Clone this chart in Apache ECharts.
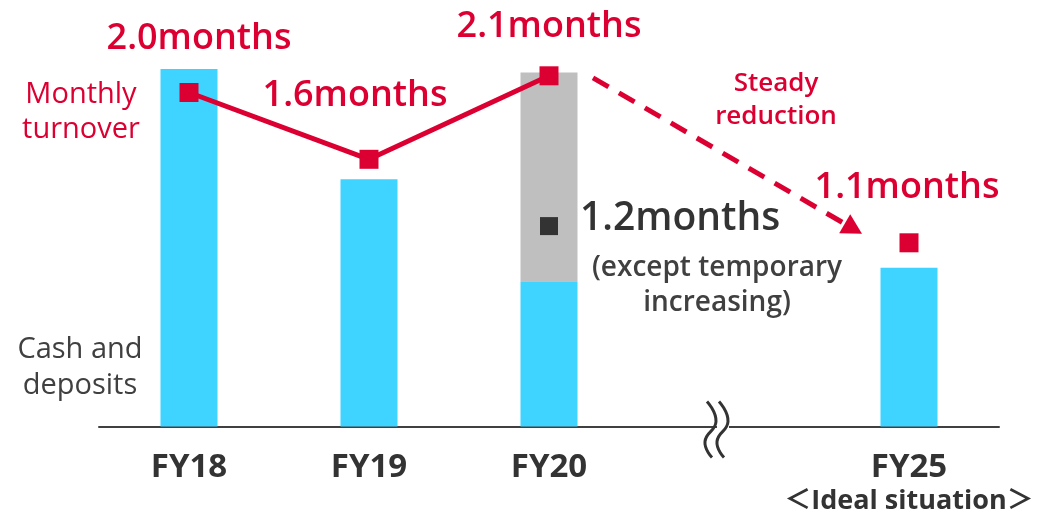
<!DOCTYPE html>
<html>
<head>
<meta charset="utf-8">
<script src="https://cdn.jsdelivr.net/npm/echarts@6/dist/echarts.min.js"></script>
<style>
  html, body { margin: 0; padding: 0; background: #fff; }
  #chart { width: 1045px; height: 515px; }
</style>
</head>
<body>
<div id="chart"></div>
<script>
// Fiscal years on the x axis; the blank slot stands for the omitted years.
const categories = ['FY18', 'FY19', 'FY20', '', 'FY25'];
// Cash and deposits, expressed in months of turnover
const cashDeposits = [2.14, 1.48, 0.87, null, 0.95];
// Temporary increase on top of FY20 cash
const temporaryIncrease = [null, null, 1.25, null, null];
// Months of turnover held (actual FY18-FY20, target FY25)
const turnoverMonths = [2.0, 1.6, 2.1, null, 1.1];
// FY20 level excluding the temporary increase
const adjustedMonths = [null, null, 1.2, null, null];

const RED = '#dc0032';
const BLUE = '#3fd4ff';
const GREY = '#bfbfbf';
const DARK = '#333333';
const FONT = "'Open Sans', 'Noto Sans CJK JP', sans-serif";

// per-point nudges for the red value labels
const labelOffsets = [[10, -4], [-14, -14], [0, 0], null, [-2, -6]];

const chart = echarts.init(document.getElementById('chart'));

chart.setOption({
  animation: false,
  backgroundColor: '#ffffff',
  textStyle: { fontFamily: FONT },
  grid: { left: 99, right: 46, top: 9, bottom: 87 },
  xAxis: {
    type: 'category',
    data: categories,
    axisLine: { lineStyle: { color: '#404040', width: 2 } },
    axisTick: { show: false },
    axisLabel: {
      margin: 23,
      interval: 0,
      formatter: function (v) {
        if (v === 'FY25') return '{fy|FY25}\n{sub|＜Ideal situation＞}';
        return v ? '{fy|' + v + '}' : '';
      },
      rich: {
        fy: { fontSize: 33, fontWeight: 'bold', color: DARK, lineHeight: 36, fontFamily: FONT },
        sub: { fontSize: 27, fontWeight: 'bold', color: DARK, lineHeight: 32, fontFamily: FONT }
      }
    }
  },
  yAxis: {
    type: 'value',
    min: 0,
    max: 2.5,
    show: false,
    splitLine: { show: false }
  },
  series: [
    {
      name: 'Cash and deposits',
      type: 'bar',
      stack: 'cash',
      barWidth: 57,
      itemStyle: { color: BLUE },
      data: cashDeposits
    },
    {
      name: 'Temporary increase',
      type: 'bar',
      stack: 'cash',
      barWidth: 57,
      itemStyle: { color: GREY },
      data: temporaryIncrease
    },
    {
      name: 'Monthly turnover',
      type: 'line',
      symbol: 'rect',
      symbolSize: 19,
      connectNulls: false,
      lineStyle: { color: RED, width: 5 },
      itemStyle: { color: RED },
      z: 5,
      label: {
        show: true,
        position: 'top',
        distance: 22,
        color: RED,
        fontSize: 36,
        fontWeight: 600,
        fontFamily: FONT,
        formatter: function (p) { return p.value.toFixed(1) + 'months'; }
      },
      data: turnoverMonths.map(function (v, i) {
        if (v == null) return null;
        return { value: v, label: { offset: labelOffsets[i] } };
      })
    },
    {
      name: 'Excluding temporary increase',
      type: 'scatter',
      symbol: 'rect',
      symbolSize: 18,
      itemStyle: { color: DARK, opacity: 1 },
      z: 6,
      label: {
        show: true,
        position: 'right',
        distance: 22,
        offset: [0, -7],
        color: DARK,
        fontSize: 39,
        fontWeight: 600,
        fontFamily: FONT,
        formatter: function (p) { return p.value[1].toFixed(1) + 'months'; }
      },
      data: adjustedMonths.map(function (v, i) { return v == null ? null : [categories[i], v]; }).filter(Boolean)
    }
  ]
});

// Annotations placed relative to the plotted points
const p20 = chart.convertToPixel({ gridIndex: 0 }, [2, turnoverMonths[2]]);
const p25 = chart.convertToPixel({ gridIndex: 0 }, [4, turnoverMonths[4]]);
const base0 = chart.convertToPixel({ gridIndex: 0 }, [3, 0]);

// dashed trend arrow from FY20 towards FY25
const start = [p20[0] + 44, p20[1] + 2];
const tip = [p25[0] - 47, p25[1] - 9];
const dx = tip[0] - start[0], dy = tip[1] - start[1];
const len = Math.sqrt(dx * dx + dy * dy);
const ux = dx / len, uy = dy / len;
const headLen = 20, headHalf = 11;
const baseMid = [tip[0] - ux * headLen, tip[1] - uy * headLen];

// axis break mark in the blank slot
const bx = base0[0] - 13, by = base0[1];
function wave(off) {
  return [
    [bx - 9 + off, by - 25],
    [bx + off, by - 5],
    [bx - 11 + off, by + 15],
    [bx - 4 + off, by + 31]
  ];
}

chart.setOption({
  graphic: [
    {
      type: 'line',
      shape: { x1: start[0], y1: start[1], x2: baseMid[0], y2: baseMid[1] },
      style: { stroke: RED, lineWidth: 5, lineDash: [18, 12] },
      z: 10
    },
    {
      type: 'polygon',
      shape: {
        points: [
          tip,
          [baseMid[0] - uy * headHalf, baseMid[1] + ux * headHalf],
          [baseMid[0] + uy * headHalf, baseMid[1] - ux * headHalf]
        ]
      },
      style: { fill: RED },
      z: 10
    },
    {
      type: 'rect',
      shape: { x: bx + 1, y: by - 6, width: 12, height: 12 },
      style: { fill: '#ffffff' },
      z: 10
    },
    {
      type: 'polyline',
      shape: { points: wave(0), smooth: 0.5 },
      style: { stroke: '#333', lineWidth: 3, fill: null },
      z: 11
    },
    {
      type: 'polyline',
      shape: { points: wave(12), smooth: 0.5 },
      style: { stroke: '#333', lineWidth: 3, fill: null },
      z: 11
    },
    {
      type: 'text',
      x: 81, y: 112,
      style: {
        text: 'Monthly\nturnover',
        fill: RED,
        font: '29px ' + FONT,
        lineHeight: 35,
        textAlign: 'center',
        textVerticalAlign: 'middle'
      }
    },
    {
      type: 'text',
      x: 80, y: 368,
      style: {
        text: 'Cash and\ndeposits',
        fill: '#404040',
        font: '29px ' + FONT,
        lineHeight: 36,
        textAlign: 'center',
        textVerticalAlign: 'middle'
      }
    },
    {
      type: 'text',
      x: 776, y: 100,
      style: {
        text: 'Steady\nreduction',
        fill: RED,
        font: '600 26px ' + FONT,
        lineHeight: 33,
        textAlign: 'center',
        textVerticalAlign: 'middle'
      }
    },
    {
      type: 'text',
      x: 717, y: 286,
      style: {
        text: '(except temporary\nincreasing)',
        fill: '#404040',
        font: '600 28px ' + FONT,
        lineHeight: 35,
        textAlign: 'center',
        textVerticalAlign: 'middle'
      }
    }
  ]
});
</script>
</body>
</html>
